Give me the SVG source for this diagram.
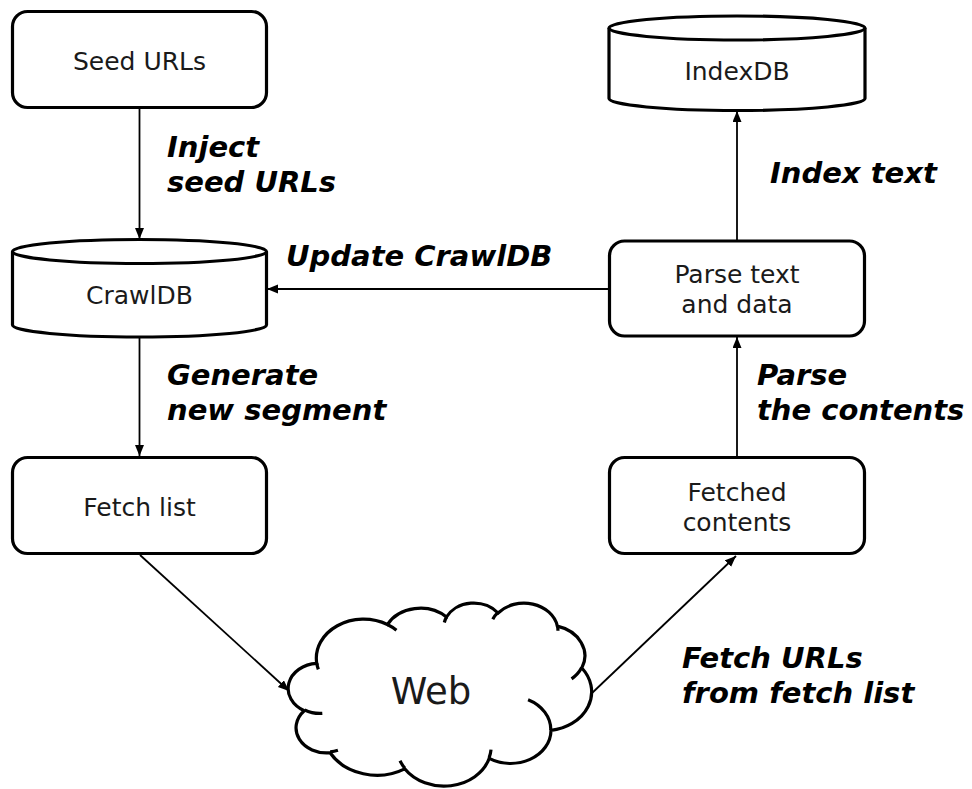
<svg xmlns="http://www.w3.org/2000/svg" width="972" height="789" viewBox="0 0 972 789">
<style>
.box{fill:#fff;stroke:#000;stroke-width:3.2}
.node{font-family:"DejaVu Sans",Verdana,sans-serif;font-size:25px;fill:#1a1a1a;text-anchor:middle}
.lbl{font-family:"DejaVu Sans",Verdana,sans-serif;font-size:29px;font-weight:bold;font-style:italic;fill:#000}
.conn{fill:none;stroke:#000;stroke-width:1.8}
</style>
<defs>
<marker id="ah" markerUnits="userSpaceOnUse" markerWidth="12" markerHeight="10" refX="11" refY="4.5" orient="auto">
<path d="M0,0 L11,4.5 L0,9 z" fill="#000"/>
</marker>
</defs>
<rect width="972" height="789" fill="#fff"/>
<g id="connectors">
<line class="conn" x1="139.5" y1="108" x2="139.5" y2="239" marker-end="url(#ah)"/>
<line class="conn" x1="139.5" y1="337" x2="139.5" y2="456" marker-end="url(#ah)"/>
<line class="conn" x1="737" y1="240" x2="737" y2="111" marker-end="url(#ah)"/>
<line class="conn" x1="737" y1="456" x2="737" y2="337" marker-end="url(#ah)"/>
<line class="conn" x1="609" y1="289" x2="267" y2="289" marker-end="url(#ah)"/>
<line class="conn" x1="140" y1="555" x2="289" y2="691" marker-end="url(#ah)"/>
<line class="conn" x1="591" y1="694" x2="736" y2="556" marker-end="url(#ah)"/>
</g>
<g id="seed">
<rect class="box" x="12.5" y="11.5" width="254" height="96" rx="15"/>
<text class="node" x="139.5" y="70">Seed URLs</text>
</g>
<g id="crawldb">
<path class="box" d="M12.5,251.5 L12.5,325 A127,12 0 0 0 266.5,325 L266.5,251.5 A127,12 0 0 0 12.5,251.5 Z"/>
<path class="box" style="fill:none" d="M12.5,251.5 A127,12 0 0 0 266.5,251.5"/>
<text class="node" x="139.5" y="304">CrawlDB</text>
</g>
<g id="fetchlist">
<rect class="box" x="12.5" y="457.5" width="254" height="96" rx="15"/>
<text class="node" x="139.5" y="516">Fetch list</text>
</g>
<g id="indexdb">
<path class="box" d="M609,28 L609,98.5 A128,12 0 0 0 865,98.5 L865,28 A128,12 0 0 0 609,28 Z"/>
<path class="box" style="fill:none" d="M609,28 A128,12 0 0 0 865,28"/>
<text class="node" x="737" y="80">IndexDB</text>
</g>
<g id="parse">
<rect class="box" x="609.5" y="241" width="255" height="95" rx="15"/>
<text class="node" x="737" y="283">Parse text</text>
<text class="node" x="737" y="313">and data</text>
</g>
<g id="fetched">
<rect class="box" x="609.5" y="457.5" width="255" height="96" rx="15"/>
<text class="node" x="737" y="501">Fetched</text>
<text class="node" x="737" y="531">contents</text>
</g>
<g id="web">
<path class="box" d="M316.76,663.37 A47.21,38.93 0 0 1 387.41,624.54 A37.28,30.78 0 0 1 446.48,617.04 A30.51,25.18 0 0 1 498.05,613.00 A33.95,27.94 0 0 1 557.36,626.12 A37.28,30.81 0 0 1 581.83,667.98 A47.36,39.06 0 0 1 550.98,730.45 A40.44,33.33 0 0 1 489.12,758.45 A47.20,39.04 0 0 1 404.72,768.84 A53.97,44.66 0 0 1 330.08,752.77 A30.48,25.07 0 0 1 304.27,710.74 A30.37,25.18 0 0 1 316.76,663.37 Z"/>
<path class="box" style="fill:none" d="M322.31,713.39 A30.37,25.18 0 0 1 304.60,710.01 M337.93,750.34 A30.48,25.07 0 0 1 330.18,751.95 M404.69,768.09 A47.20,39.04 0 0 1 400.01,760.71 M491.02,749.71 A47.20,39.04 0 0 1 489.16,757.80 M528.09,699.74 A40.44,33.33 0 0 1 550.82,729.96 M581.70,667.54 A37.28,30.81 0 0 1 571.58,678.88 M557.41,625.49 A33.95,27.94 0 0 1 557.95,630.84 M492.77,619.24 A33.95,27.94 0 0 1 497.97,612.41 M444.28,622.49 A30.51,25.18 0 0 1 446.79,616.61 M387.37,624.49 A47.21,38.93 0 0 1 396.46,630.21 M318.35,669.38 A47.21,38.93 0 0 1 316.77,663.38"/>
<text class="node" x="431" y="704" style="font-size:37px">Web</text>
</g>
<g id="labels">
<text class="lbl" x="167" y="157">Inject</text>
<text class="lbl" x="167" y="192">seed URLs</text>
<text class="lbl" x="286" y="266">Update CrawlDB</text>
<text class="lbl" x="770" y="183">Index text</text>
<text class="lbl" x="167" y="385">Generate</text>
<text class="lbl" x="167" y="420">new segment</text>
<text class="lbl" x="757" y="385">Parse</text>
<text class="lbl" x="757" y="420">the contents</text>
<text class="lbl" x="682" y="668">Fetch URLs</text>
<text class="lbl" x="682" y="703">from fetch list</text>
</g>
</svg>
